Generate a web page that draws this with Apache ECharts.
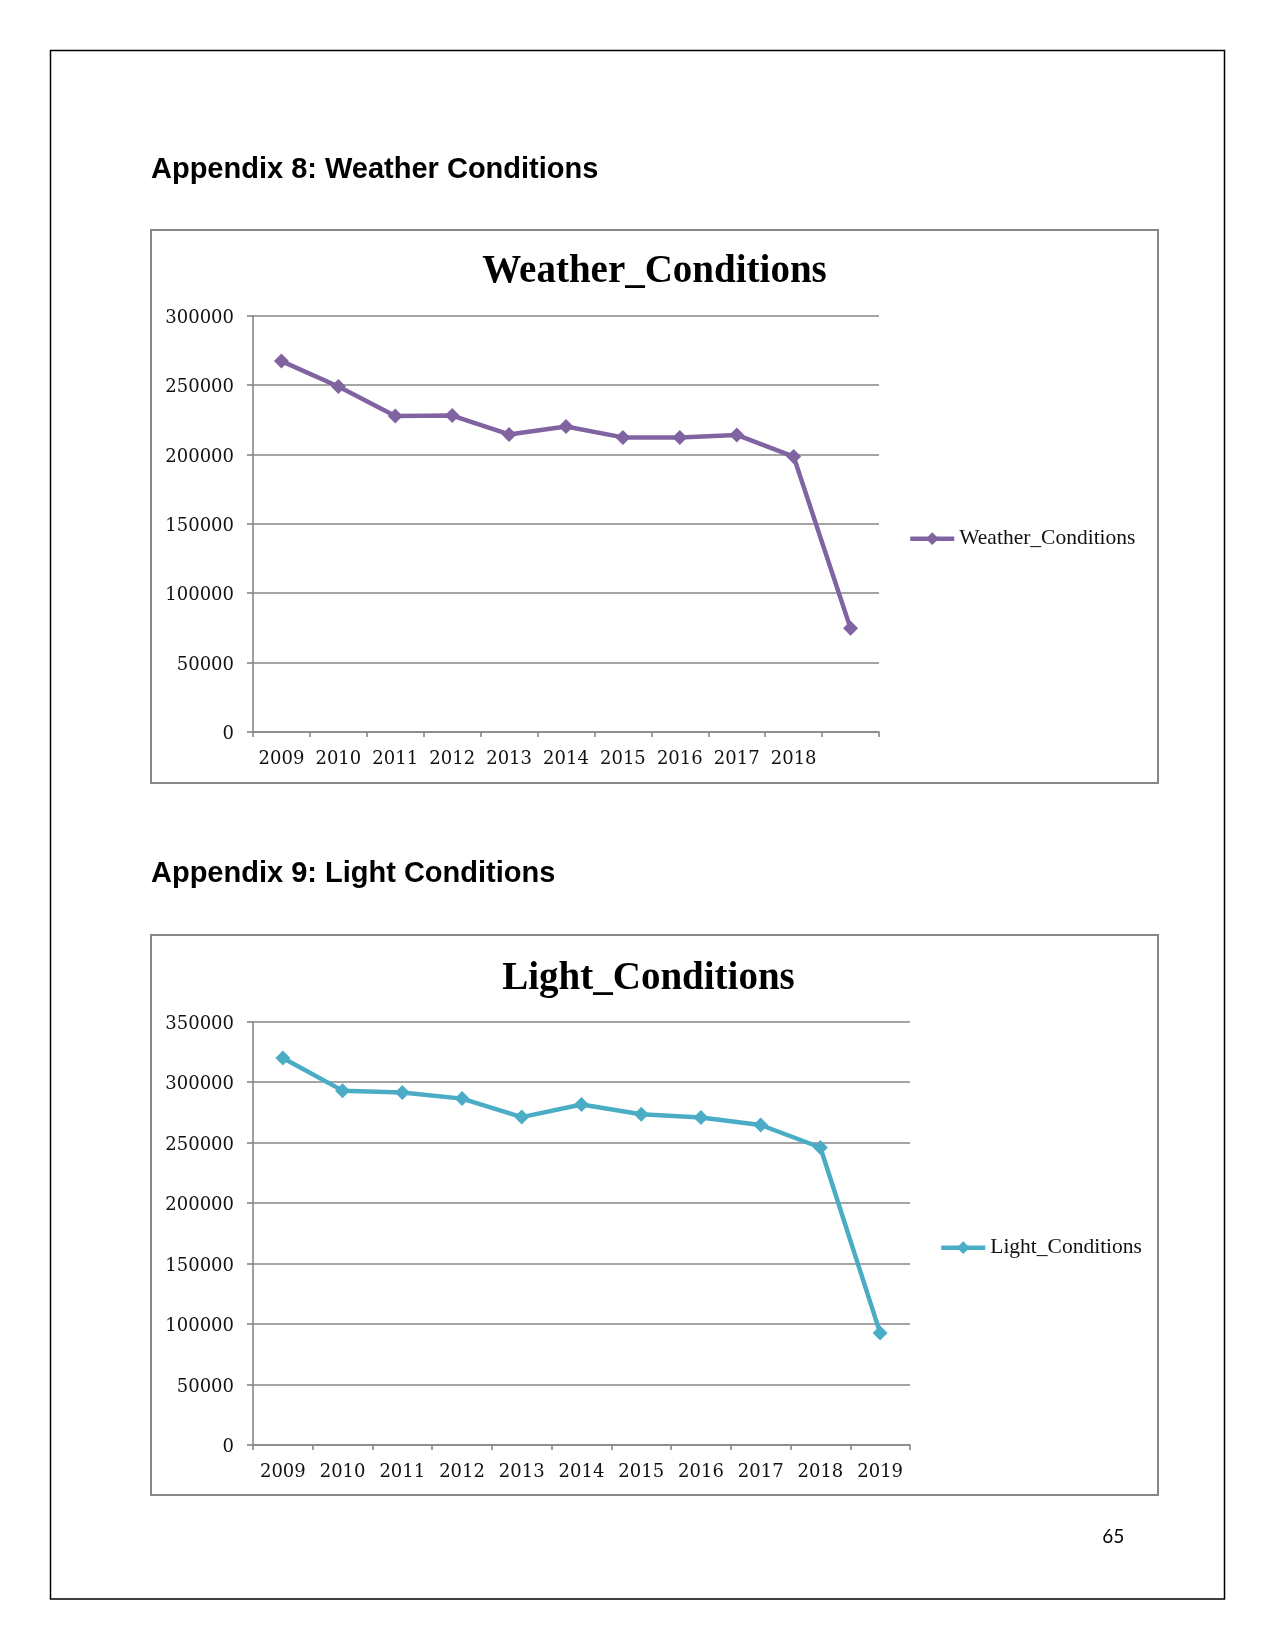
<!DOCTYPE html>
<html>
<head>
<meta charset="utf-8">
<script src="https://cdn.jsdelivr.net/npm/echarts@6/dist/echarts.min.js"></script>
<style>
html,body{margin:0;padding:0;background:#fff;}
#page{width:1275px;height:1650px;}
</style>
</head>
<body>
<div id="page"></div>
<script>
// ---- Data ----
const weatherCategories = ['2009','2010','2011','2012','2013','2014','2015','2016','2017','2018',''];
const weatherValues = [267300, 249000, 227700, 228000, 214400, 220100, 212300, 212300, 214100, 198500, 74700];
const weatherTicks = [0, 50000, 100000, 150000, 200000, 250000, 300000];

const lightCategories = ['2009','2010','2011','2012','2013','2014','2015','2016','2017','2018','2019'];
const lightValues = [320000, 293000, 291500, 286400, 271100, 281600, 273500, 270800, 264600, 246000, 92700];
const lightTicks = [0, 50000, 100000, 150000, 200000, 250000, 300000, 350000];

const headings = ['Appendix 8: Weather Conditions', 'Appendix 9: Light Conditions'];
const chartTitles = ['Weather_Conditions', 'Light_Conditions'];
const pageNumber = '65';

// ---- Styles ----
const AXIS = '#868686';
const PURPLE = '#8064A2';
const TEAL = '#4BACC6';
const tickFont = '"DejaVu Serif"';

function xAxis(gridIndex, cats) {
  return {
    type: 'category', gridIndex, data: cats, boundaryGap: true,
    axisLine: {show: true, lineStyle: {color: AXIS, width: 1.6}},
    axisTick: {show: true, length: 5, inside: false, lineStyle: {color: AXIS, width: 1.6}},
    axisLabel: {interval: 0, margin: 18.5, fontFamily: tickFont, fontSize: 18, color: '#111'},
    splitLine: {show: false}
  };
}
function yAxis(gridIndex, ticks) {
  return {
    type: 'value', gridIndex, min: ticks[0], max: ticks[ticks.length-1],
    interval: ticks[1]-ticks[0],
    axisLine: {show: true, lineStyle: {color: AXIS, width: 1.6}},
    axisTick: {show: true, length: 6, inside: false, lineStyle: {color: AXIS, width: 1.6}},
    axisLabel: {margin: 19, fontFamily: tickFont, fontSize: 18, color: '#111',
      formatter: function (v) { return '{a|' + String(v) + '}'; },
      rich: {a: {fontFamily: tickFont, fontSize: 18, color: '#111', padding: [5, 0, 0, 0]}}},
    splitLine: {show: true, lineStyle: {color: AXIS, width: 1.6}}
  };
}
function legend(name, left, top) {
  return {
    data: [name], left, top, itemWidth: 44, itemHeight: 16,
    lineStyle: {width: 4.5}, itemStyle: {},
    textStyle: {fontFamily: '"Liberation Serif"', fontSize: 21.5, color: '#111'}
  };
}
function series(name, xi, values, color) {
  return {
    name, type: 'line', xAxisIndex: xi, yAxisIndex: xi, data: values,
    symbol: 'diamond', symbolSize: 15, showAllSymbol: true,
    lineStyle: {color, width: 4.5}, itemStyle: {color}
  };
}

const chart = echarts.init(document.getElementById('page'), null, {renderer: 'canvas', width: 1275, height: 1650});
chart.setOption({
  animation: false,
  backgroundColor: '#fff',
  grid: [
    {left: 253, top: 315.7, width: 626, height: 416.3},
    {left: 253, top: 1021.7, width: 657, height: 423.3}
  ],
  xAxis: [xAxis(0, weatherCategories), xAxis(1, lightCategories)],
  yAxis: [yAxis(0, weatherTicks), yAxis(1, lightTicks)],
  legend: [legend(chartTitles[0], 903, 522.7), legend(chartTitles[1], 934, 1231.7)],
  series: [series(chartTitles[0], 0, weatherValues, PURPLE), series(chartTitles[1], 1, lightValues, TEAL)],
  graphic: [
    {type: 'rect', shape: {x: 50.5, y: 50.5, width: 1174, height: 1548.5},
     style: {fill: 'none', stroke: '#000', lineWidth: 1.5}, silent: true},
    {type: 'rect', shape: {x: 151, y: 230, width: 1007, height: 553},
     style: {fill: 'none', stroke: AXIS, lineWidth: 2}, silent: true},
    {type: 'rect', shape: {x: 151, y: 935, width: 1007, height: 560},
     style: {fill: 'none', stroke: AXIS, lineWidth: 2}, silent: true},
    {type: 'text', style: {text: headings[0], x: 151, y: 169.5, font: 'bold 29px "Liberation Sans"',
      fill: '#000', textAlign: 'left', textVerticalAlign: 'middle', align: 'left', verticalAlign: 'middle'}},
    {type: 'text', style: {text: headings[1], x: 151, y: 874.2, font: 'bold 29px "Liberation Sans"',
      fill: '#000', textAlign: 'left', textVerticalAlign: 'middle', align: 'left', verticalAlign: 'middle'}},
    {type: 'text', style: {text: chartTitles[0], x: 654.5, y: 271.9, font: 'bold 39px "Liberation Serif"',
      fill: '#000', textAlign: 'center', textVerticalAlign: 'middle', align: 'center', verticalAlign: 'middle'}},
    {type: 'text', style: {text: chartTitles[1], x: 648.5, y: 979.2, font: 'bold 39px "Liberation Serif"',
      fill: '#000', textAlign: 'center', textVerticalAlign: 'middle', align: 'center', verticalAlign: 'middle'}},
    {type: 'text', style: {text: pageNumber, x: 1113.3, y: 1536.5, font: '19px Lato',
      fill: '#000', textAlign: 'center', textVerticalAlign: 'middle', align: 'center', verticalAlign: 'middle'}}
  ]
});
</script>
</body>
</html>
